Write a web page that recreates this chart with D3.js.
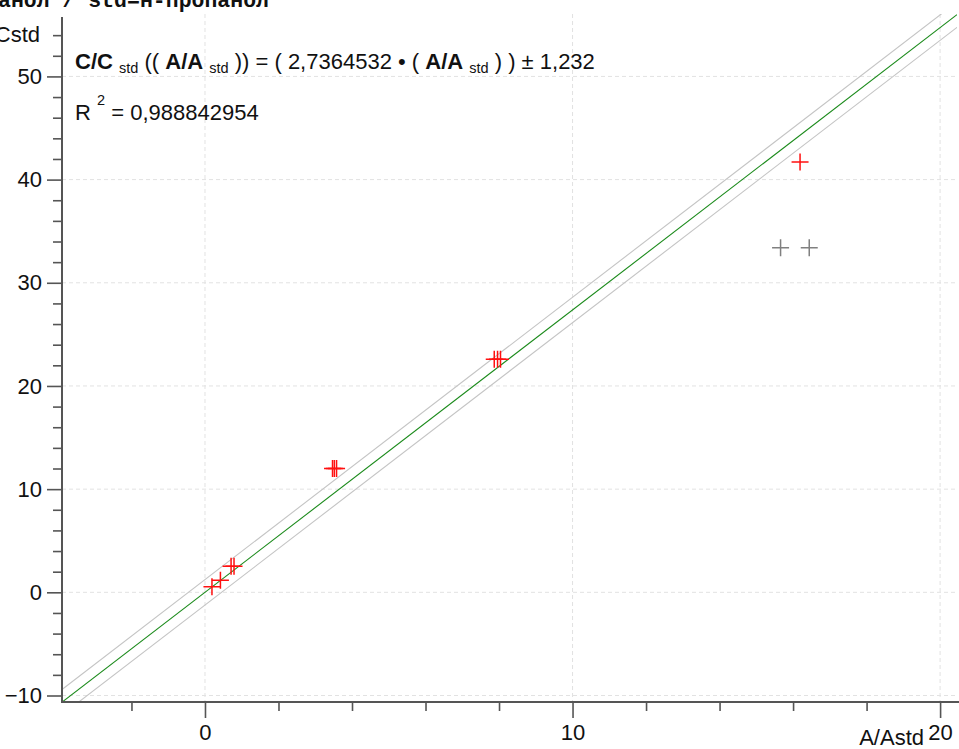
<!DOCTYPE html>
<html>
<head>
<meta charset="utf-8">
<script src="https://cdn.jsdelivr.net/npm/d3@7"></script>
<style>
  body { margin: 0; background: #fff; }
  svg { display: block; font-family: "Liberation Sans", Arial, sans-serif; }
</style>
</head>
<body>
<div class="chart"></div>
<script>
// data
// ==========================================================================
var ratioX = [0.19, 0.42, 0.71, 0.79, 3.47, 3.52, 3.58, 7.87, 7.96, 8.04, 16.19];
var concY = [0.53, 1.16, 2.52, 2.52, 12.0, 12.0, 12.0, 22.6, 22.6, 22.6, 41.7];
// points left out of the fit (grey)
var excludedX = [15.66, 16.44];
var excludedY = [33.4, 33.4];

var slope = 2.7364532;
var bandHalf = 1.232;

var xMajor = [0, 10, 20];
var xMinor = [-2, 2, 4, 6, 8, 12, 14, 16, 18];
var yMajor = [-10, 0, 10, 20, 30, 40, 50];
var yMinor = d3.range(-10, 56, 2).filter(d => d % 10 !== 0);

// chart setup
// ==========================================================================
var svgWidth = 959;
var svgHeight = 749;

var plot = { left: 62, right: 957, top: 14, bottom: 702 };

var svg = d3.select(".chart")
  .append("svg")
  .attr("width", svgWidth)
  .attr("height", svgHeight);

var x = d3.scaleLinear()
  .domain([-3.89, 20.46])
  .range([plot.left, plot.right]);

var y = d3.scaleLinear()
  .domain([-10.63, 56.05])
  .range([plot.bottom, plot.top]);

svg.append("clipPath")
  .attr("id", "plotClip")
  .append("rect")
  .attr("x", plot.left)
  .attr("y", plot.top)
  .attr("width", plot.right - plot.left)
  .attr("height", plot.bottom - plot.top);

// dashed grid
var grid = svg.append("g").attr("stroke", "#e2e2e2").attr("stroke-dasharray", "4,3");
grid.selectAll(".gx")
  .data(xMajor)
  .enter()
  .append("line")
  .attr("x1", d => x(d)).attr("x2", d => x(d))
  .attr("y1", plot.top).attr("y2", plot.bottom);
grid.selectAll(".gy")
  .data(yMajor)
  .enter()
  .append("line")
  .attr("x1", plot.left).attr("x2", plot.right)
  .attr("y1", d => y(d)).attr("y2", d => y(d));

// regression line + band
var lines = svg.append("g").attr("clip-path", "url(#plotClip)");
var xs = x.domain();
[[bandHalf, "#c4c4c4"], [-bandHalf, "#c4c4c4"], [0, "#1a8a1a"]].forEach(function(b) {
  lines.append("line")
    .attr("x1", x(xs[0]))
    .attr("y1", y(slope * xs[0] + b[0]))
    .attr("x2", x(xs[1]))
    .attr("y2", y(slope * xs[1] + b[0]))
    .attr("stroke", b[1])
    .attr("stroke-width", 1.1);
});

// crosses
function crossPath(cx, cy) {
  var a = 8.5;
  return "M" + (cx - a) + "," + cy + "H" + (cx + a) + "M" + cx + "," + (cy - a) + "V" + (cy + a);
}

svg.append("g")
  .selectAll("path")
  .data(excludedX)
  .enter()
  .append("path")
  .attr("d", (d, i) => crossPath(x(d), y(excludedY[i])))
  .attr("stroke", "#808080")
  .attr("stroke-width", 1.5)
  .attr("fill", "none");

svg.append("g")
  .selectAll("path")
  .data(ratioX)
  .enter()
  .append("path")
  .attr("d", (d, i) => crossPath(x(d), y(concY[i])))
  .attr("stroke", "#ff1010")
  .attr("stroke-width", 1.5)
  .attr("fill", "none");

// axes
var axisColor = "#555";
var labelSize = "22px";

function styleAxis(g) {
  g.select(".domain").remove();
  g.selectAll(".tick line").attr("stroke", axisColor).attr("stroke-width", 1.6);
  g.selectAll("text").attr("fill", "#111").style("font-size", labelSize)
    .style("font-family", "'Liberation Sans', Arial, sans-serif");
}

svg.append("g")
  .attr("transform", `translate(${plot.left},0)`)
  .call(d3.axisLeft(y).tickValues(yMinor).tickSize(9).tickFormat(""))
  .call(styleAxis);

svg.append("g")
  .attr("transform", `translate(${plot.left},0)`)
  .call(d3.axisLeft(y).tickValues(yMajor).tickSize(15).tickPadding(5).tickFormat(d3.format("d")))
  .call(styleAxis);

svg.append("g")
  .attr("transform", `translate(0,${plot.bottom})`)
  .call(d3.axisBottom(x).tickValues(xMinor).tickSize(9).tickFormat(""))
  .call(styleAxis);

var xAxis = svg.append("g")
  .attr("transform", `translate(0,${plot.bottom})`)
  .call(d3.axisBottom(x).tickValues(xMajor).tickSize(16).tickPadding(6.5).tickFormat(d3.format("d")))
  .call(styleAxis);

// axis lines
svg.append("line")
  .attr("x1", plot.left).attr("x2", plot.left)
  .attr("y1", 17).attr("y2", plot.bottom + 1)
  .attr("stroke", axisColor).attr("stroke-width", 2);
svg.append("line")
  .attr("x1", plot.left - 1).attr("x2", svgWidth)
  .attr("y1", plot.bottom).attr("y2", plot.bottom)
  .attr("stroke", axisColor).attr("stroke-width", 2);

// axis titles
svg.append("text")
  .attr("x", 40)
  .attr("y", 42)
  .attr("text-anchor", "end")
  .style("font-size", labelSize)
  .attr("fill", "#111")
  .text("C/Cstd");

svg.append("text")
  .attr("x", 924)
  .attr("y", 745)
  .attr("text-anchor", "end")
  .style("font-size", labelSize)
  .attr("fill", "#111")
  .text("A/Astd");

// title (cut at the top of the picture)
svg.append("text")
  .attr("x", -2)
  .attr("y", 7)
  .style("font-family", "'Liberation Mono', 'Courier New', monospace")
  .style("font-weight", "bold")
  .style("font-size", "21.5px")
  .attr("fill", "#111")
  .text("анол / std=н-пропанол");

// equation
var eq = svg.append("text")
  .attr("x", 75)
  .attr("y", 69)
  .style("font-size", "22px")
  .attr("fill", "#111");

var parts = [
  ["C/C", "b"], [" ", ""], ["std", "s"], [" (( ", ""], ["A/A", "b"], [" ", ""], ["std", "s"],
  [" )) = ( 2,7364532 \u2022 ( ", ""], ["A/A", "b"], [" ", ""], ["std", "s"], [" ) ) \u00b1 1,232", ""]
];
var shift = 0;
parts.forEach(function(p) {
  var t = eq.append("tspan").text(p[0]);
  var want = p[1] === "s" ? 4 : 0;
  if (want !== shift) { t.attr("dy", want - shift); shift = want; }
  if (p[1] === "b") t.style("font-weight", "bold");
  if (p[1] === "s") t.style("font-size", "14.5px");
});

var r2 = svg.append("text")
  .attr("x", 75)
  .attr("y", 120)
  .style("font-size", "22px")
  .attr("fill", "#111");
r2.append("tspan").text("R ");
r2.append("tspan").attr("dy", -15).style("font-size", "14.5px").text("2");
r2.append("tspan").attr("dy", 15).text(" = 0,988842954");
</script>
</body>
</html>
